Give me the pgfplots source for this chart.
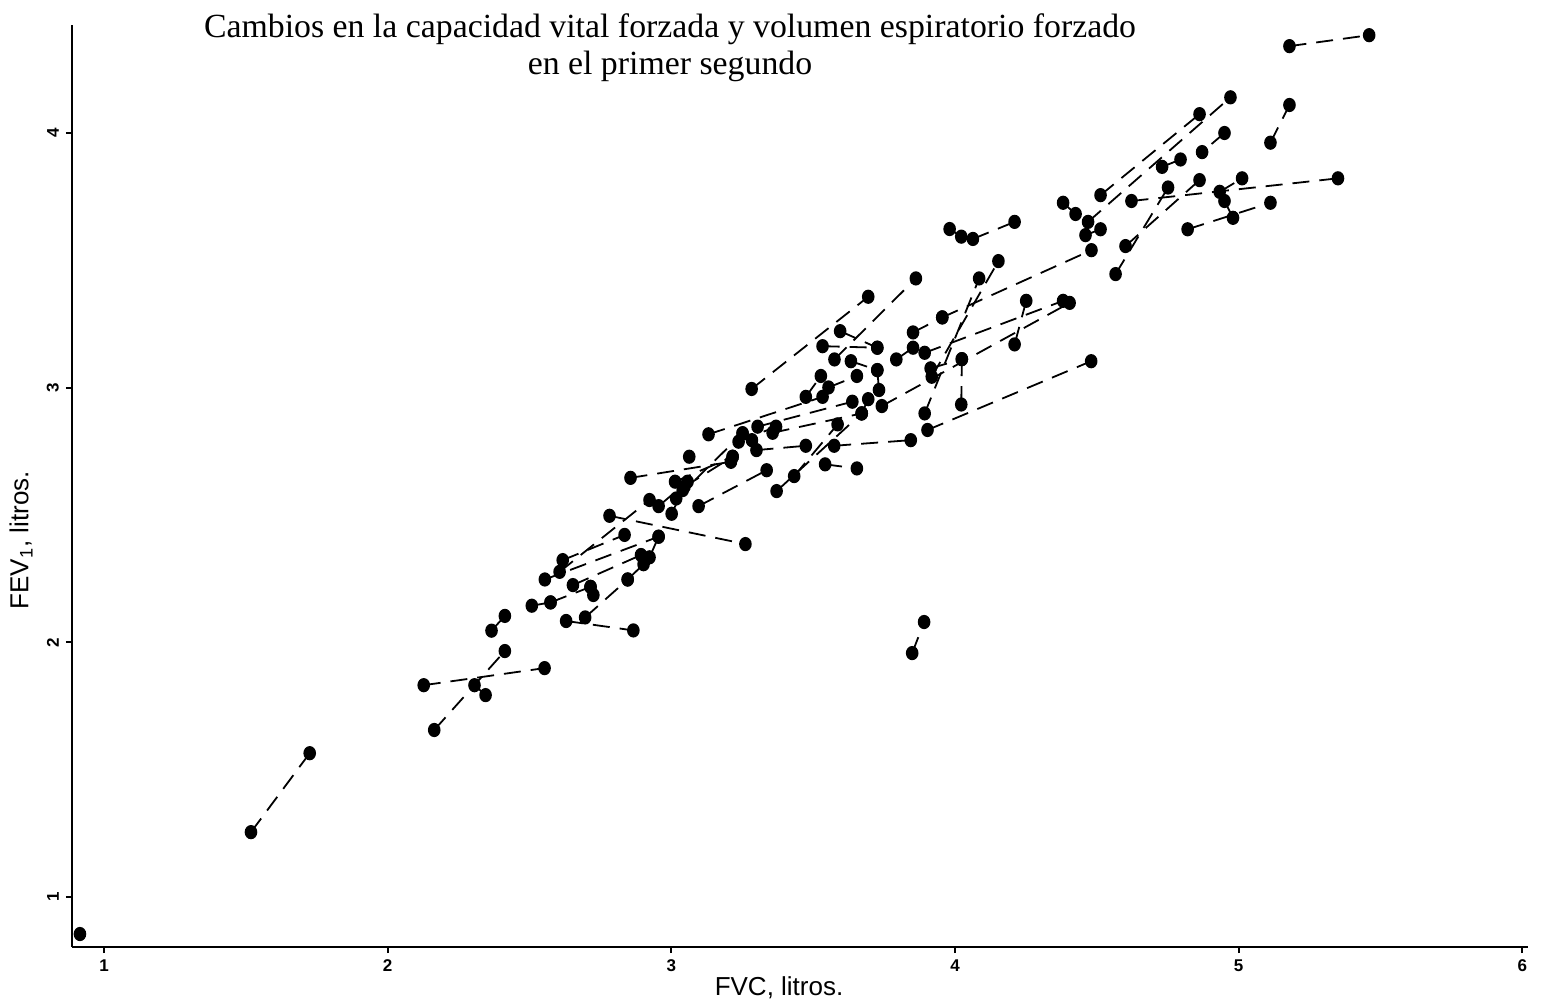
\documentclass[border=0pt]{standalone}
\usepackage{fontspec}
\setmainfont{Liberation Serif}
\newfontfamily\helv{Liberation Sans}
\usepackage{pgfplots}
\pgfplotsset{compat=1.18}
\begin{document}
\begin{tikzpicture}
\begin{axis}[
 scale only axis, width=728pt, height=461pt,
 xmin=0.887, xmax=6.02, ymin=0.804, ymax=4.424,
 axis x line*=bottom, axis y line*=left,
 axis line style={line width=1pt, -},
 xtick={1,2,3,4,5,6}, ytick={1,2,3,4},
 tick align=outside, major tick length=3pt,
 tick style={line width=1pt, black},
 /pgf/number format/assume math mode=true,
 ticklabel style={font=\helv\bfseries\fontsize{8.5}{9}\selectfont},
 yticklabel style={rotate=90, anchor=south},
 clip=false,
 pair/.style={black, line width=0.9pt, dash pattern=on 8.5pt off 5pt, mark=*, mark size=2.7pt, mark options={solid, fill=black, yscale=1.15}},
]
\coordinate (SW) at (rel axis cs:0,0);
\coordinate (NE) at (rel axis cs:1,1);
\coordinate (YL) at (rel axis cs:0,0.441);
\addplot[pair] coordinates {(0.915,0.855)};
\addplot[pair] coordinates {(1.518,1.255) (1.725,1.565)};
\addplot[pair] coordinates {(2.127,1.832) (2.553,1.899)};
\addplot[pair] coordinates {(2.164,1.656) (2.413,1.966)};
\addplot[pair] coordinates {(2.306,1.832) (2.345,1.793)};
\addplot[pair] coordinates {(2.366,2.046) (2.413,2.104)};
\addplot[pair] coordinates {(2.508,2.144) (2.574,2.157)};
\addplot[pair] coordinates {(2.574,2.157) (2.715,2.218)};
\addplot[pair] coordinates {(2.554,2.247) (2.955,2.415)};
\addplot[pair] coordinates {(2.606,2.277) (2.923,2.559)};
\addplot[pair] coordinates {(2.617,2.323) (2.835,2.422)};
\addplot[pair] coordinates {(2.629,2.084) (2.866,2.047)};
\addplot[pair] coordinates {(2.696,2.098) (2.846,2.247)};
\addplot[pair] coordinates {(2.653,2.225) (2.893,2.343)};
\addplot[pair] coordinates {(2.725,2.186) (2.715,2.218)};
\addplot[pair] coordinates {(2.846,2.247) (2.902,2.307)};
\addplot[pair] coordinates {(2.782,2.497) (3.261,2.386)};
\addplot[pair] coordinates {(2.923,2.334) (2.955,2.415)};
\addplot[pair] coordinates {(2.856,2.646) (3.210,2.709)};
\addplot[pair] coordinates {(2.955,2.535) (3.057,2.631)};
\addplot[pair] coordinates {(3.001,2.505) (3.040,2.598)};
\addplot[pair] coordinates {(3.013,2.631) (3.216,2.729)};
\addplot[pair] coordinates {(3.017,2.565) (3.251,2.821)};
\addplot[pair] coordinates {(3.063,2.729)};
\addplot[pair] coordinates {(3.046,2.611) (3.216,2.729)};
\addplot[pair] coordinates {(3.096,2.535) (3.336,2.676)};
\addplot[pair] coordinates {(3.131,2.817) (3.533,2.964)};
\addplot[pair] coordinates {(3.304,2.847) (3.638,2.945)};
\addplot[pair] coordinates {(3.357,2.823) (3.671,2.899)};
\addplot[pair] coordinates {(3.237,2.788) (3.369,2.847)};
\addplot[pair] coordinates {(3.251,2.821) (3.284,2.794)};
\addplot[pair] coordinates {(3.300,2.755) (3.474,2.772)};
\addplot[pair] coordinates {(3.574,2.772) (3.844,2.794)};
\addplot[pair] coordinates {(3.542,2.699) (3.654,2.683)};
\addplot[pair] coordinates {(3.371,2.594) (3.671,2.899)};
\addplot[pair] coordinates {(3.433,2.653) (3.586,2.856)};
\addplot[pair] coordinates {(3.694,2.955) (3.671,2.899)};
\addplot[pair] coordinates {(3.732,2.991) (3.726,3.069)};
\addplot[pair] coordinates {(3.742,2.928) (4.404,3.333)};
\addplot[pair] coordinates {(3.474,2.964) (3.527,3.046)};
\addplot[pair] coordinates {(3.554,3.001) (3.654,3.046)};
\addplot[pair] coordinates {(3.633,3.104) (3.726,3.069)};
\addplot[pair] coordinates {(3.575,3.111) (3.862,3.429)};
\addplot[pair] coordinates {(3.283,2.995) (3.694,3.357)};
\addplot[pair] coordinates {(3.533,3.163) (3.726,3.157)};
\addplot[pair] coordinates {(3.595,3.222) (3.726,3.157)};
\addplot[pair] coordinates {(3.793,3.111) (3.852,3.157)};
\addplot[pair] coordinates {(3.852,3.217) (3.955,3.276)};
\addplot[pair] coordinates {(3.955,3.276) (4.481,3.540)};
\addplot[pair] coordinates {(3.893,3.137) (4.381,3.341)};
\addplot[pair] coordinates {(3.914,3.076) (4.024,3.112)};
\addplot[pair] coordinates {(4.024,3.112) (4.022,2.934)};
\addplot[pair] coordinates {(3.918,3.043) (4.153,3.497)};
\addplot[pair] coordinates {(3.893,2.899) (4.085,3.429)};
\addplot[pair] coordinates {(3.903,2.834) (4.480,3.104)};
\addplot[pair] coordinates {(4.251,3.341) (4.210,3.170)};
\addplot[pair] coordinates {(3.849,1.958) (3.891,2.080)};
\addplot[pair] coordinates {(3.981,3.623) (4.022,3.593)};
\addplot[pair] coordinates {(4.063,3.584) (4.210,3.651)};
\addplot[pair] coordinates {(4.381,3.726) (4.425,3.682)};
\addplot[pair] coordinates {(4.460,3.599) (4.513,3.622)};
\addplot[pair] coordinates {(4.469,3.651) (4.971,4.140)};
\addplot[pair] coordinates {(4.513,3.756) (4.862,4.074)};
\addplot[pair] coordinates {(5.112,3.962) (5.179,4.110)};
\addplot[pair] coordinates {(4.730,3.867) (4.795,3.896)};
\addplot[pair] coordinates {(4.950,4.000) (4.871,3.925)};
\addplot[pair] coordinates {(4.601,3.556) (4.862,3.815)};
\addplot[pair] coordinates {(4.566,3.446) (4.751,3.786)};
\addplot[pair] coordinates {(4.622,3.733) (5.350,3.822)};
\addplot[pair] coordinates {(4.933,3.769) (5.012,3.822)};
\addplot[pair] coordinates {(4.950,3.733) (4.980,3.667)};
\addplot[pair] coordinates {(4.820,3.622) (5.112,3.726)};
\addplot[pair] coordinates {(5.179,4.341) (5.460,4.384)};
\node[anchor=base, font=\fontsize{16.9}{19}\selectfont] at (rel axis cs:0,1) [xshift=299pt, yshift=-6.5pt] {Cambios en la capacidad vital forzada y volumen espiratorio forzado};
\node[anchor=base, font=\fontsize{16.9}{19}\selectfont] at (rel axis cs:0,1) [xshift=299pt, yshift=-25pt] {en el primer segundo};
\node[anchor=base, font=\helv\fontsize{13}{13}\selectfont] at (rel axis cs:0.4856,0) [yshift=-24pt] {FVC, litros.};
\end{axis}
\node[rotate=90, font=\helv\fontsize{13}{13}\selectfont] at ([xshift=-25.5pt]YL) {FEV\textsubscript{1}, litros.};
\pgfresetboundingbox
\path ([shift={(-36pt,-28.5pt)}]SW) rectangle ([shift={(6.5pt,12.5pt)}]NE);
\end{tikzpicture}
\end{document}
